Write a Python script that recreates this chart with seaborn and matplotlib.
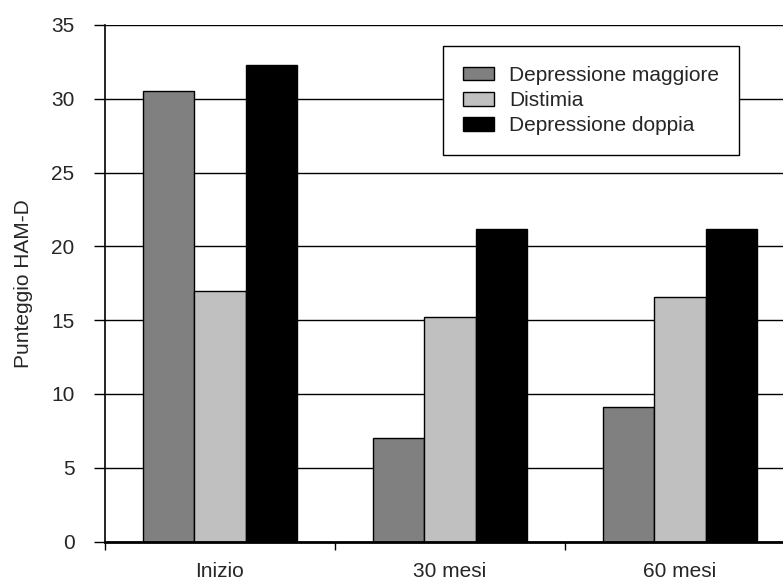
import matplotlib
matplotlib.use("Agg")
import matplotlib.pyplot as plt
import seaborn as sns
import pandas as pd
from matplotlib.patches import Patch

categories = ["Inizio", "30 mesi", "60 mesi"]
series_names = ["Depressione maggiore", "Distimia", "Depressione doppia"]
depressione_maggiore = [30.5, 7.0, 9.1]
distimia = [17.0, 15.2, 16.6]
depressione_doppia = [32.3, 21.2, 21.2]
colors = ["#808080", "#C0C0C0", "#000000"]

rows = []
for name, vals in zip(series_names, [depressione_maggiore, distimia, depressione_doppia]):
    for c, v in zip(categories, vals):
        rows.append({"Periodo": c, "Serie": name, "Valore": v})
df = pd.DataFrame(rows)

sns.set_theme(style="white")
plt.rcParams['font.family'] = ['Liberation Sans', 'DejaVu Sans']

FS = 15

fig = plt.figure(figsize=(7.83, 5.83), dpi=100)
ax = fig.add_axes([105/783, 41.5/583, 690/783, 516.5/583])

sns.barplot(data=df, x="Periodo", y="Valore", hue="Serie", order=categories,
            hue_order=series_names, palette=colors, width=0.67, gap=0,
            edgecolor="black", linewidth=1, saturation=1, ax=ax, legend=False,
            zorder=3)

ax.set_xlim(-0.5, 2.5)
ax.set_ylim(0, 35)
ax.set_yticks(range(0, 36, 5))
ax.yaxis.grid(True, color="black", linewidth=1)
ax.set_axisbelow(True)
ax.tick_params(axis="y", direction="out", length=8, width=1, color="black",
               labelsize=FS, pad=14, left=True)
ax.set_xticks(range(len(categories)))
ax.set_xticklabels(categories)
ax.tick_params(axis="x", which="major", length=0, labelsize=FS, pad=15)
ax.set_xticks([-0.5, 0.5, 1.5, 2.5], minor=True)
ax.tick_params(axis="x", which="minor", direction="out", length=6, width=1,
               color="black", bottom=True)
ax.set_xlabel("")
ax.set_ylabel("Punteggio HAM-D", fontsize=FS, labelpad=13)

for s in ["top", "right"]:
    ax.spines[s].set_visible(False)
ax.spines["left"].set_color("black")
ax.spines["left"].set_linewidth(1.2)
ax.spines["bottom"].set_color("black")
ax.spines["bottom"].set_linewidth(2)
ax.spines["bottom"].set_zorder(4)

handles = [Patch(facecolor=c, edgecolor="black", linewidth=1) for c in colors]
leg = ax.legend(handles, series_names, loc="upper left", bbox_to_anchor=(0.49, 0.959),
                fontsize=FS, frameon=True, fancybox=False, edgecolor="black",
                framealpha=1, borderpad=0.95, borderaxespad=0, labelspacing=0.3,
                handlelength=1.5, handleheight=0.63, handletextpad=0.72)
leg.get_frame().set_linewidth(1)
leg.set_zorder(5)

fig.savefig("out.png", dpi=100)
